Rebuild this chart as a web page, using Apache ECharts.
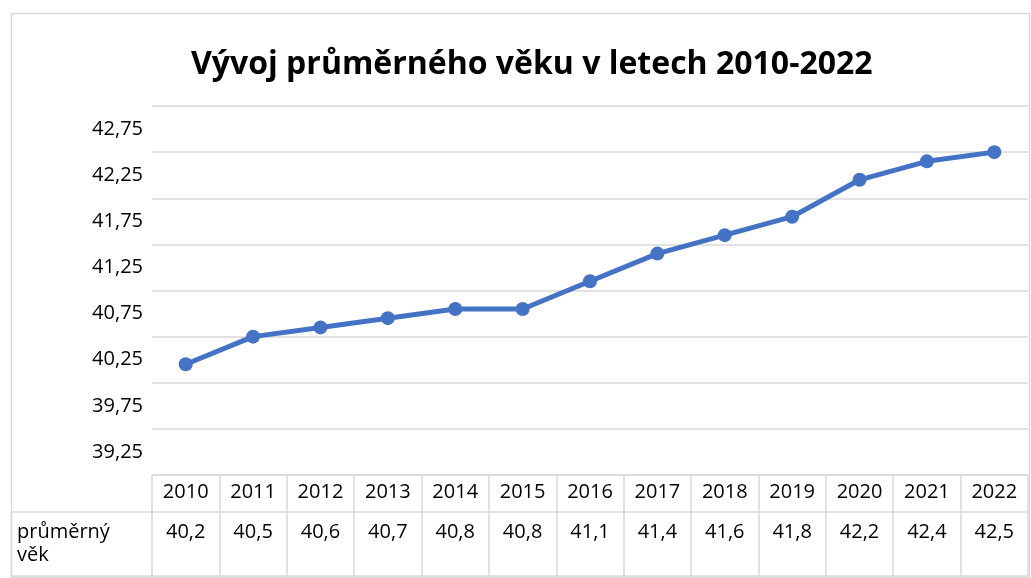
<!DOCTYPE html>
<html lang="cs">
<head>
    <meta charset="UTF-8">
    <title>Vývoj průměrného věku</title>
    <script src="https://cdn.jsdelivr.net/npm/echarts@6/dist/echarts.min.js"></script>
    <style>
        html, body {
            margin: 0;
            padding: 0;
            background: #fff;
        }
    </style>
</head>
<body>
<div id="main" style="width: 1031px; height: 578px;"></div>
<script type="application/javascript">
    // data z tabulky pod grafem
    var years = ['2010', '2011', '2012', '2013', '2014', '2015', '2016', '2017', '2018', '2019', '2020', '2021', '2022'];
    var ages = [40.2, 40.5, 40.6, 40.7, 40.8, 40.8, 41.1, 41.4, 41.6, 41.8, 42.2, 42.4, 42.5];
    var seriesName = 'průměrný věk';
    var titleText = 'Vývoj průměrného věku v letech 2010-2022';

    var gridColor = '#d9d9d9';
    var font = 'Open Sans';

    function czNum(v, digits) {
        return v.toFixed(digits).replace('.', ',');
    }

    var ageLabels = ages.map(function (v) { return czNum(v, 1); });

    var myChart = echarts.init(document.getElementById('main'));

    option = {
        animation: false,
        title: {
            text: titleText,
            left: 186,
            top: 44,
            textStyle: {
                fontFamily: font,
                fontSize: 32,
                fontWeight: 'bold',
                color: '#000'
            }
        },
        grid: {
            left: 152,
            right: 3,
            top: 106,
            bottom: 103
        },
        xAxis: [
            {
                type: 'category',
                data: years,
                position: 'bottom',
                boundaryGap: true,
                axisLine: {lineStyle: {color: gridColor, width: 1.5}},
                axisTick: {show: true, interval: 0, length: 37, lineStyle: {color: gridColor, width: 1.5}},
                axisLabel: {interval: 0, margin: 7, color: '#000', fontFamily: font, fontSize: 20}
            },
            {
                type: 'category',
                data: ageLabels,
                position: 'bottom',
                offset: 37,
                boundaryGap: true,
                axisLine: {lineStyle: {color: gridColor, width: 1.5}},
                axisTick: {show: true, interval: 0, length: 64, lineStyle: {color: gridColor, width: 1.5}},
                axisLabel: {interval: 0, margin: 10, color: '#000', fontFamily: font, fontSize: 20}
            },
            {
                type: 'category',
                data: years,
                position: 'bottom',
                offset: 101,
                axisLine: {lineStyle: {color: gridColor, width: 1.5}},
                axisTick: {show: false},
                axisLabel: {show: false}
            }
        ],
        yAxis: {
            type: 'value',
            min: 39,
            max: 43,
            interval: 0.25,
            axisLine: {show: false},
            axisTick: {show: false},
            axisLabel: {
                color: '#000',
                fontFamily: font,
                fontSize: 20,
                margin: 9,
                formatter: function (v) {
                    // jen popisky mezi mřížkou (39,25; 39,75; ...)
                    return Math.round(v * 4) % 2 === 1 ? czNum(v, 2) : '';
                }
            },
            splitLine: {
                lineStyle: {color: [gridColor, 'rgba(0,0,0,0)'], width: 1.5}
            }
        },
        series: [
            {
                name: seriesName,
                type: 'line',
                data: ages,
                symbol: 'circle',
                symbolSize: 14,
                lineStyle: {color: '#4472c4', width: 5},
                itemStyle: {color: '#4472c4'}
            }
        ],
        graphic: [
            // rámeček grafu
            {
                type: 'rect',
                shape: {x: 11.5, y: 13.5, width: 1018, height: 564},
                style: {fill: 'none', stroke: gridColor, lineWidth: 1.5},
                silent: true
            },
            // levá buňka tabulky
            {
                type: 'polyline',
                shape: {points: [[152, 512], [11.5, 512], [11.5, 576], [152, 576]]},
                style: {fill: 'none', stroke: gridColor, lineWidth: 1.5},
                silent: true
            },
            {
                type: 'text',
                left: 17,
                top: 521,
                style: {
                    text: seriesName.replace(' ', '\n'),
                    fill: '#000',
                    font: '20px "Open Sans"',
                    lineHeight: 23
                }
            }
        ]
    };

    myChart.setOption(option);
</script>
</body>
</html>
